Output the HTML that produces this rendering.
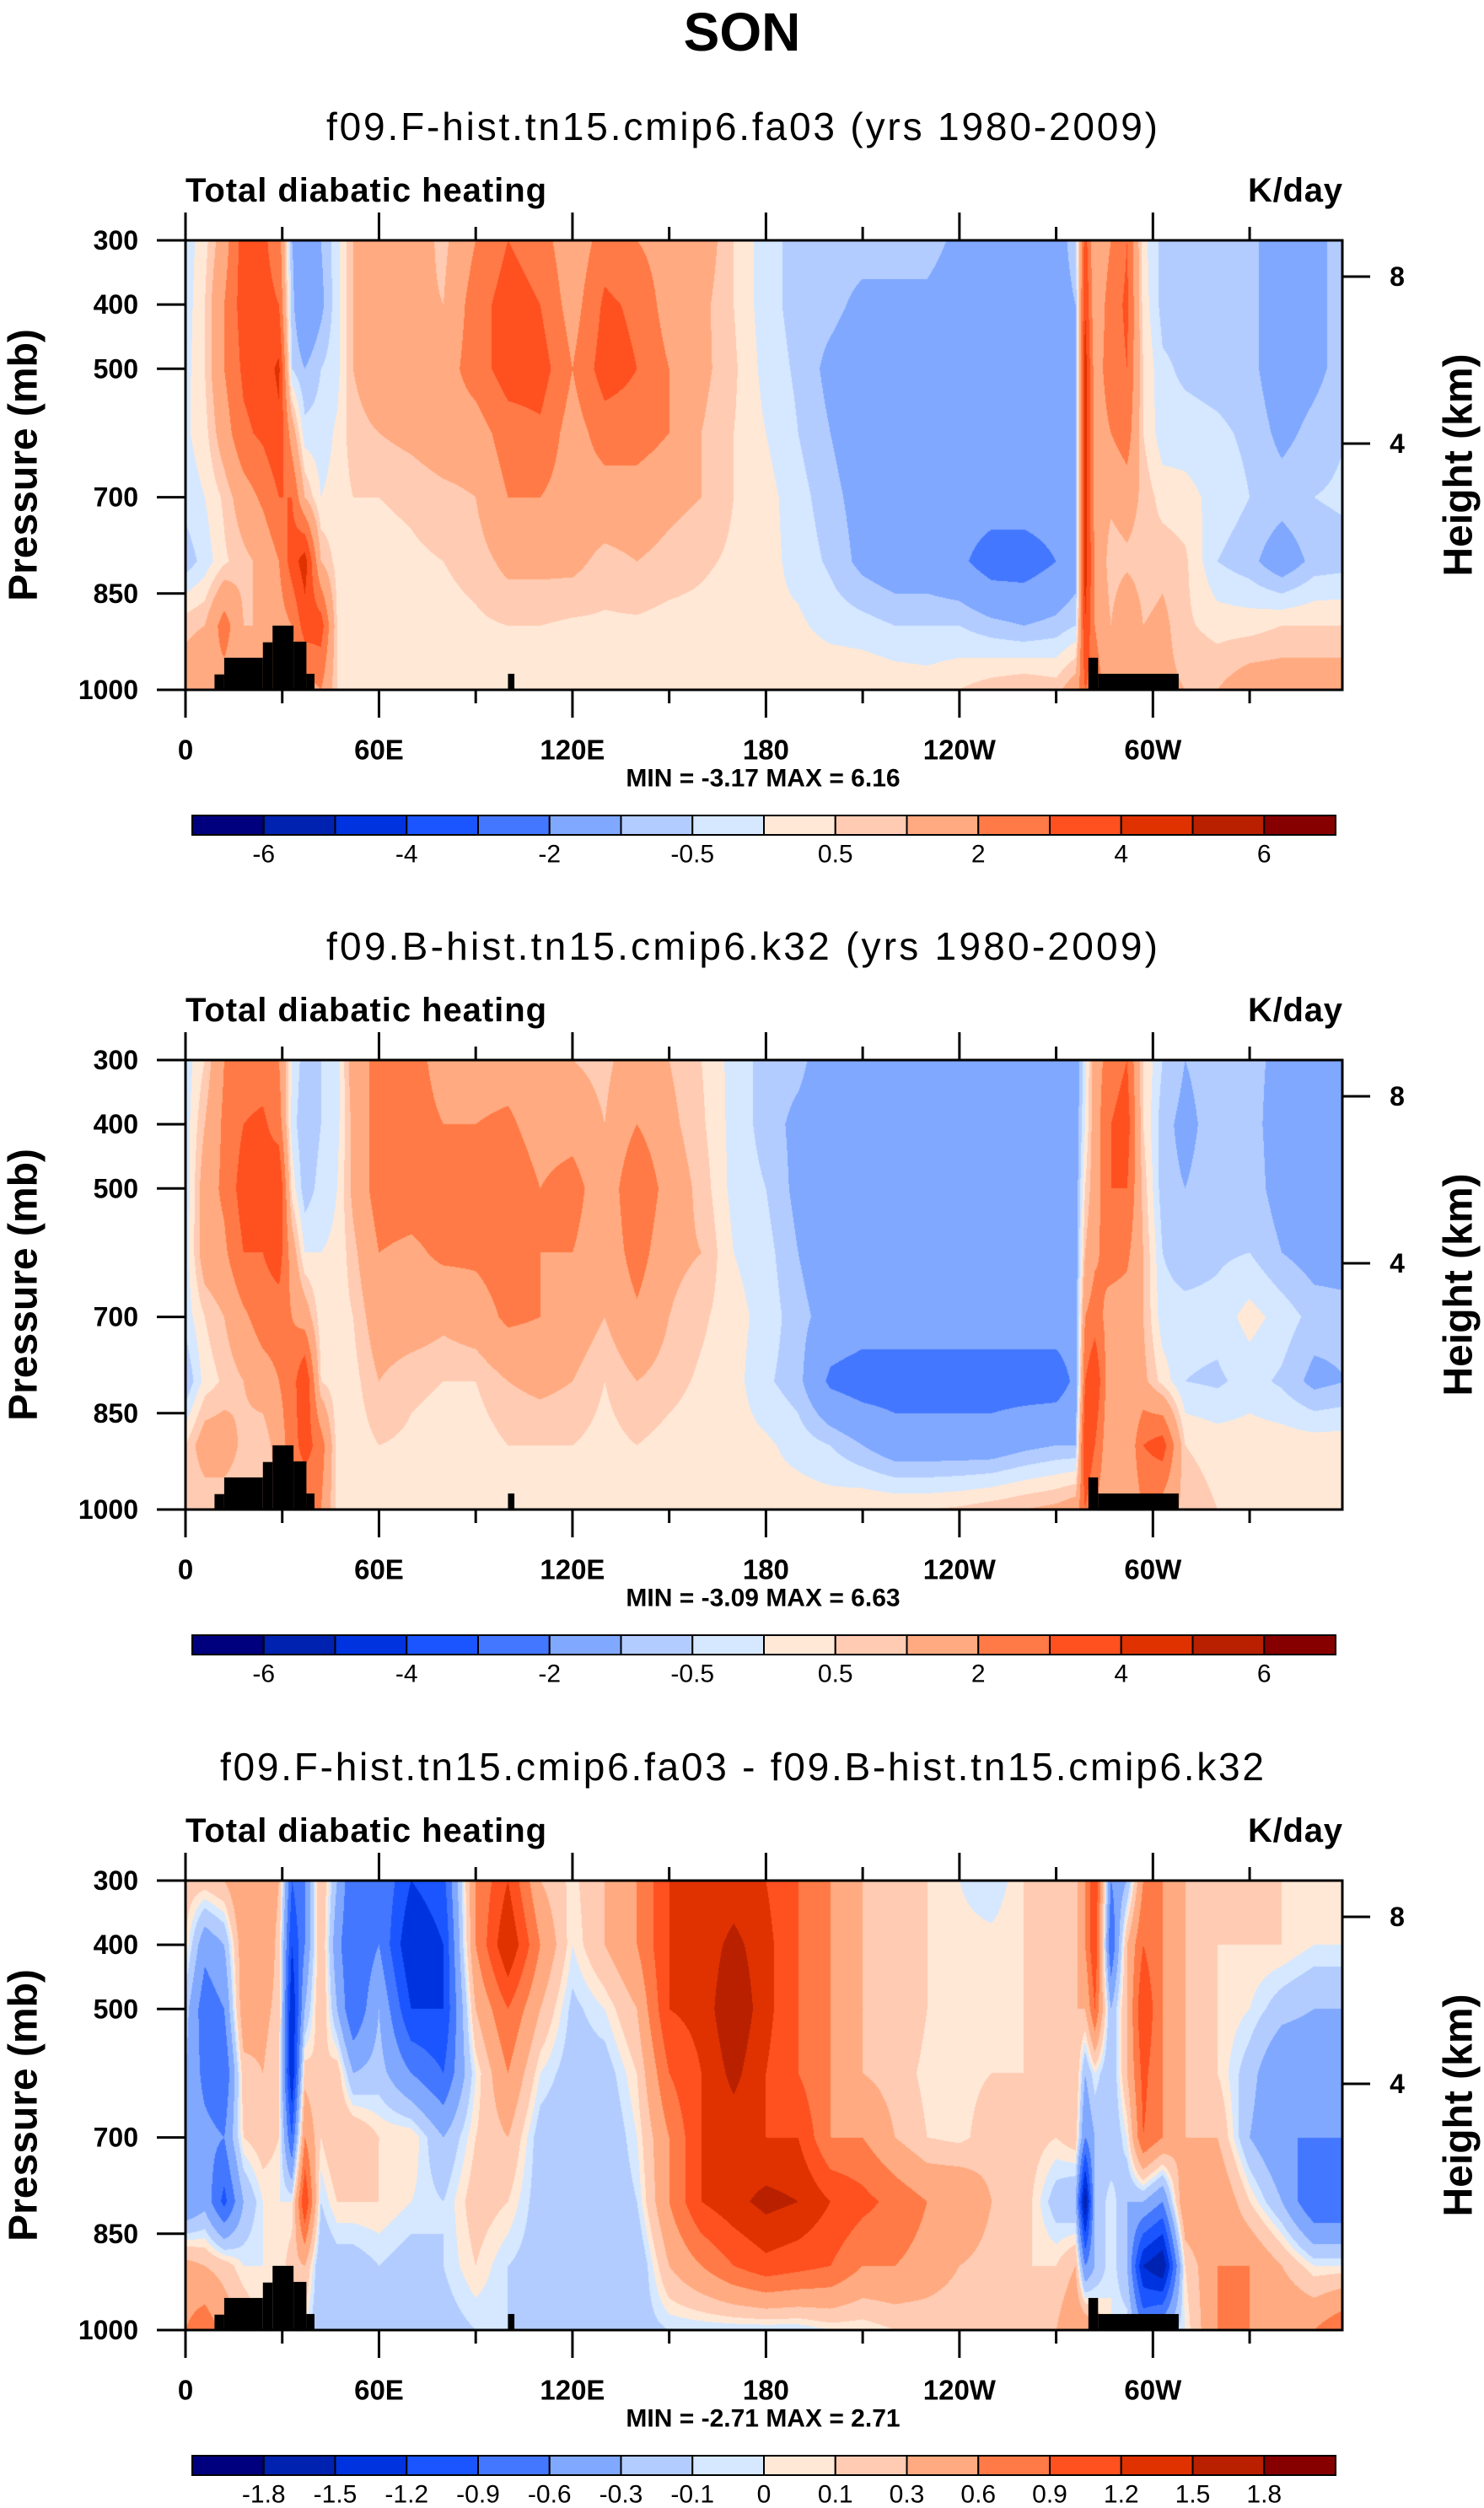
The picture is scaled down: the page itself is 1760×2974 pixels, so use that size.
<!DOCTYPE html>
<html><head><meta charset="utf-8">
<style>
html,body{margin:0;padding:0;background:#fff;}
#root{position:relative;width:1760px;height:2974px;overflow:hidden;font-family:"Liberation Sans",sans-serif;}
canvas{position:absolute;}
svg{position:absolute;left:0;top:0;}
</style></head>
<body>
<div id="root">
<svg id="svg" width="1760" height="2974"></svg>
</div>
<script>
// ---- data ----
const lons=[0,6,12,18,24,29,33,37,42,47,52,60,70,80,90,100,110,120,130,140,150,160,170,180,190,200,210,220,230,240,250,260,270,276,279,282,287,292,297,303,310,320,330,340,350,360];
const pressures=[300,400,500,600,700,800,900,1000];
const field1=[
[-0.3,-0.3,-0.2,-0.1,-0.3,-0.8,0.8,1.5],
[0.3,0.5,0.5,0.3,0,-0.3,1,2],
[1.5,2,2,1.5,0.6,0.4,2.5,1.5],
[3.5,3.5,3.2,2.8,1.5,0.8,1,1.2],
[3.2,3.3,3.5,3.2,2.2,1.2,1,1],
[2.5,3,4.2,3.8,3,2,1.5,1],
[-1,-0.8,-0.5,1.5,3,3.5,2,1.2],
[-1.5,-2,-1,-0.3,1,4.5,3.5,1.5],
[-1,-1.2,-0.5,-0.3,0,1,3.5,2],
[-0.2,-0.2,-0.2,0.1,0.2,0.3,0.5,0.5],
[1,1,1,0.8,0.5,0.3,0.3,0.3],
[1.5,1.5,1.5,1.0,0.5,0.3,0.3,0.2],
[1.5,1.2,1.5,1.2,0.6,0.4,0.3,0.2],
[0.8,1.0,1.5,1.5,0.8,0.5,0.3,0.2],
[2,2.5,2.5,1.5,1.0,0.7,0.4,0.3],
[3,3.5,3.5,2.5,2,1.2,0.5,0.3],
[2.5,3,3.5,2.8,2,1.2,0.5,0.2],
[1.2,1.5,2.0,1.5,1.5,1.2,0.4,0.2],
[2.5,3.2,3.5,2.5,1.5,0.8,0.4,0.3],
[2,2.8,3,2.5,1.5,1,0.4,0.2],
[1.5,1.5,2.0,2,1.2,0.8,0.3,0.2],
[1.5,1.2,1.2,1.0,1.0,0.6,0.3,0.3],
[0.5,0.5,0.6,0.5,0.5,0.4,0.2,0.2],
[-0.3,-0.3,-0.2,0,0.2,0.2,0.1,0.2],
[-0.7,-0.7,-0.6,-0.5,-0.3,-0.2,0.1,0.4],
[-0.7,-0.8,-1.2,-1.0,-0.8,-0.6,-0.2,0.5],
[-0.7,-1.2,-1.5,-1.5,-1.3,-1.2,-0.3,0.5],
[-0.7,-1.2,-1.5,-1.5,-1.5,-1.5,-0.5,0.4],
[-0.7,-1.2,-1.5,-1.5,-1.5,-1.5,-0.5,0.3],
[-1.2,-1.5,-1.5,-1.5,-1.5,-1.8,-0.5,0.5],
[-1.5,-1.5,-1.5,-1.5,-1.5,-2.5,-0.8,0.8],
[-1.5,-1.5,-1.5,-1.5,-1.5,-2.5,-1,1.0],
[-1.5,-1.5,-1.5,-1.5,-1.5,-2,-0.8,0.8],
[-0.6,-1,-1.2,-1.2,-1.2,-1.5,-0.5,1.5],
[3.5,4,4.5,4.5,4.5,4.5,4,3],
[1,1.2,1.5,1.5,1.5,2.0,2,2.5],
[2,2.5,2.5,2,1.2,0.6,1,1.5],
[3,3.2,3,2.5,1.5,0.8,2,1.5],
[0.2,0.3,0.5,0.5,0.8,0.6,1,1],
[-0.7,-0.7,-0.4,-0.3,0.3,0.8,1.2,1.2],
[-0.7,-0.7,-0.6,-0.3,0.2,0.6,0.6,1.0],
[-0.7,-0.7,-0.7,-0.4,-0.2,-0.5,0.3,1],
[-0.8,-0.8,-0.8,-0.6,-0.5,-0.8,0.3,1.5],
[-1.5,-1.5,-1.5,-1.2,-0.7,-1.5,0.5,1.5],
[-1.2,-1.2,-1.2,-0.8,-0.5,-0.8,0.5,1.5],
[-0.7,-0.7,-0.7,-0.5,-0.4,-0.7,0.5,1.5]];
const field2=[
[-0.3,-0.3,-0.4,-0.3,-0.3,-1,0.5,0.5],
[0.5,1,1.5,1.5,0.5,0.2,1.5,0.5],
[2,2.2,2.2,1.8,1,0.6,1.5,0.5],
[2.5,3,3.5,3,1.8,1,0.8,0.5],
[2.5,3.2,3.5,3,2.5,1.5,0.5,0.5],
[2,2.5,4,3.5,2.5,2,1.5,1],
[0,-0.2,0.3,1.5,2,2.5,2.5,1.5],
[-0.8,-1,-0.8,0,1.5,4,3.5,2],
[-0.5,-0.5,-0.3,0,0.2,0.5,2.5,2],
[-0.3,-0.2,0,0.1,0.2,0.2,0.3,0.3],
[1.5,1.2,1.2,0.8,0.5,0.3,0.2,0.2],
[2.3,2.5,2.5,2,1.5,1,0.5,0.3],
[2.5,2.5,2.5,1.8,1.5,0.6,0.4,0.3],
[1.5,2,2.5,2.2,1.2,0.5,0.3,0.2],
[1.5,2,2.5,2.2,1.5,0.5,0.2,0.2],
[1.5,2.2,2.8,2.5,2.2,1,0.5,0.3],
[1.5,1.5,2,2,2,1.2,0.5,0.3],
[1,1.5,2.5,2,1.5,1,0.5,0.3],
[0.8,1,1.2,1.2,1,0.5,0.3,0.2],
[1.5,2,3,2.5,1.8,1,0.5,0.2],
[1,1.2,1.5,1.2,1,0.7,0.3,0.2],
[0.5,0.6,0.8,1,0.6,0.4,0.2,0.2],
[-0.2,-0.2,-0.2,0,0.2,0.2,0.2,0.2],
[-0.7,-0.7,-0.5,-0.3,-0.2,-0.4,0.1,0.2],
[-0.8,-1.2,-1.2,-1,-0.8,-0.8,-0.2,0.3],
[-1.5,-1.5,-1.5,-1.5,-1.3,-2.2,-0.5,0.3],
[-1.5,-1.5,-1.5,-1.5,-1.5,-2.5,-1,0.5],
[-1.5,-1.5,-1.5,-1.5,-1.5,-2.5,-1.5,0.5],
[-1.5,-1.5,-1.5,-1.5,-1.5,-2.5,-1.5,0.5],
[-1.5,-1.5,-1.5,-1.5,-1.5,-2.5,-1.5,0.6],
[-1.5,-1.5,-1.5,-1.5,-1.5,-2.5,-1.5,0.8],
[-1.5,-1.5,-1.5,-1.5,-1.5,-2.5,-1.2,1],
[-1.5,-1.5,-1.5,-1.5,-1.5,-2.5,-1,1.2],
[-1.5,-1.5,-1.5,-1.5,-1.5,-1.8,-1,1.5],
[-0.2,0,0.5,1,2,3,4,3],
[1.5,1.5,1.5,1.8,2.5,4,3,2],
[2.5,3,3,2.5,1.5,1,1,1],
[3,3.5,3,2.2,1.5,1,1,1],
[0.5,0.5,0.8,1,1,1.2,3,2],
[-0.5,-0.8,-0.8,-0.5,-0.3,0.3,3.5,1.5],
[-1,-1.2,-1,-0.8,-0.3,-0.5,0.5,0.8],
[-0.7,-0.7,-0.7,-0.6,-0.3,-0.6,0.3,0.5],
[-0.8,-0.8,-0.7,-0.5,0.2,-0.3,0.3,0.5],
[-1.2,-1.3,-1.3,-1,-0.2,-0.6,0.3,0.5],
[-1.5,-1.5,-1.5,-1.3,-0.7,-1.2,0.3,0.5],
[-1.5,-1.5,-1.5,-1.3,-0.8,-1,0.3,0.5]];
const field3=[
[0.2,0.1,-0.2,-0.3,-0.4,-0.6,0.4,0.6],
[0.2,-0.5,-0.8,-0.7,-0.5,-0.4,0.3,0.8],
[0.3,-0.3,-0.6,-0.9,-0.6,-1.0,0.2,0.5],
[0.6,0.5,0.5,0.2,0.1,-0.3,0,0.3],
[0.6,0.6,0.4,0.3,0.2,0,0,0],
[0.3,0.2,0.2,0.1,0.1,0,0,0],
[-0.9,-1.2,-1.5,-1.5,-0.9,0,0.2,0.3],
[-0.6,-0.6,-0.3,0.2,0.6,1.2,0.3,0],
[0.3,0.3,0.3,0.1,0.1,-0.1,-0.3,-0.3],
[-0.3,-0.5,-0.3,0.2,0.3,0.1,-0.2,-0.3],
[-0.9,-0.9,-0.9,-0.3,0.3,0.1,-0.2,-0.3],
[-0.6,-0.6,-0.3,-0.2,0.1,0.1,-0.1,-0.3],
[-1.2,-1.5,-1.2,-0.6,0.1,0,-0.2,-0.3],
[-1.0,-1.2,-1.2,-0.9,-0.3,-0.1,-0.1,-0.2],
[0.6,0.6,0.3,0,0.1,0.2,0.1,-0.1],
[1.2,1.5,0.9,0.6,0.3,0.1,-0.1,-0.1],
[0.3,0.6,0.3,0,-0.2,-0.2,-0.2,-0.2],
[0.05,0,-0.15,-0.2,-0.25,-0.3,-0.3,-0.2],
[0.3,0.3,0,-0.2,-0.3,-0.3,-0.2,-0.2],
[0.6,0.6,0.3,0.1,0,-0.1,-0.3,-0.2],
[1.2,1.2,1.2,0.9,0.6,0.6,0.3,-0.1],
[1.2,1.3,1.3,1.2,1.2,1.2,0.6,-0.1],
[1.3,1.6,1.8,1.6,1.3,1.4,0.9,-0.1],
[1.2,1.3,1.3,1.2,1.2,1.6,1.1,-0.1],
[0.9,0.9,0.9,0.9,1.2,1.5,1.0,-0.1],
[0.6,0.6,0.6,0.6,0.6,1.2,0.9,0],
[0.3,0.3,0.3,0.3,0.6,1,0.6,0],
[0.2,0.2,0.3,0.2,0.3,0.8,0.6,0.1],
[0.1,0.1,0.1,0.05,0.1,0.6,0.5,0.1],
[0,0.05,0.05,0.05,0.05,0.6,0.3,0.1],
[-0.1,0.05,0.05,0.1,0.2,0.3,0.2,0.1],
[0.1,0.1,0.1,0.1,0.2,0.2,0.1,0.1],
[0.1,0.1,0.1,0.2,0.1,-0.2,0.1,0.3],
[0.2,0.2,0.3,0.3,0.2,-0.3,0.3,0.6],
[0.6,0.6,0.3,-0.3,-0.6,-1.8,-0.6,0.6],
[1.2,1.2,0.9,0,-0.3,-0.3,-0.3,0.3],
[-0.6,-0.9,-0.3,-0.3,-0.3,0,0,0],
[-0.3,0.3,0.3,0.3,0,-0.3,-0.3,0],
[0.6,0.9,1.2,1,0.9,-0.3,-1.5,-0.6],
[0.6,0.6,0.6,0.6,0.6,-0.6,-1.8,-0.3],
[0.3,0.3,0.3,0.3,0.3,0.6,0.1,0],
[0.1,0.1,0.1,0.1,0.3,0.6,0.6,0.6],
[0.1,0.1,0,-0.2,-0.3,0.1,0.6,0.6],
[0.1,0.1,-0.2,-0.6,-0.6,-0.3,0.3,0.6],
[0.1,0,-0.3,-0.6,-0.6,-0.9,0,0.6],
[0.1,0,-0.3,-0.6,-0.6,-0.9,0,0.9]];
const levels1=[-6,-5,-4,-3,-2,-1,-0.5,0,0.5,1,2,3,4,5,6];
const levels3=[-1.8,-1.5,-1.2,-0.9,-0.6,-0.3,-0.1,0,0.1,0.3,0.6,0.9,1.2,1.5,1.8];
const cbLabels1=["-6","","-4","","-2","","-0.5","","0.5","","2","","4","","6"];
const cbLabels3=["-1.8","-1.5","-1.2","-0.9","-0.6","-0.3","-0.1","0","0.1","0.3","0.6","0.9","1.2","1.5","1.8"];
const colors=["#00007f","#0022b0","#0033e0","#1a55ff","#4477ff","#80a8ff","#b3ccff","#d5e8ff","#ffe8d6","#ffcbb2","#ffaa80","#ff7a46","#ff5020","#e03200","#b82000","#870000"];
const lonTicks=[0,60,120,180,240,300];
const lonTickLabels=["0","60E","120E","180","120W","60W"];
const pTicks=[300,400,500,700,850,1000];
const hTickY=[43,241];
const hTickLabels=["8","4"];
const topoA=[[9,12,976],[12,24,950],[24,27,926],[27,33.5,900],[33.5,37.5,925],[37.5,40,975],[100,102,975],[280,283,950],[283,308,975]];
const titles=["f09.F-hist.tn15.cmip6.fa03 (yrs 1980-2009)","f09.B-hist.tn15.cmip6.k32 (yrs 1980-2009)","f09.F-hist.tn15.cmip6.fa03 - f09.B-hist.tn15.cmip6.k32"];
const minmax=["MIN = -3.17  MAX =  6.16","MIN = -3.09  MAX =  6.63","MIN = -2.71  MAX =  2.71"];

// ---- geometry ----
const PL=220,PW=1372,PH=533,LONMAX=358.75;
const offsets=[285,1257,2230];
const xs=l=>PL+l/LONMAX*PW;
const ys=(top,p)=>top+(p-300)/700*PH;
const svg=document.getElementById('svg');
const NS="http://www.w3.org/2000/svg";
function mk(tag,attrs,parent){const e=document.createElementNS(NS,tag);for(const k in attrs)e.setAttribute(k,attrs[k]);(parent||svg).appendChild(e);return e;}
function txt(s,x,y,size,weight,anchor,parent){const t=mk('text',{x:x,y:y,'font-size':size,'font-weight':weight,'text-anchor':anchor,'font-family':'Liberation Sans, sans-serif','dominant-baseline':'central'},parent);t.textContent=s;return t;}

let t0=txt("SON",880,38,64,"bold","middle");



function sample(field,lon,p){
  let i=0;while(i<lons.length-2&&lon>lons[i+1])i++;
  const fx=Math.min(1,Math.max(0,(lon-lons[i])/(lons[i+1]-lons[i])));
  let j=Math.min(6,Math.floor((p-300)/100));
  const fy=Math.min(1,Math.max(0,(p-pressures[j])/100));
  const a=field[i][j],b=field[i+1][j],c=field[i][j+1],d=field[i+1][j+1];
  return (a*(1-fx)+b*fx)*(1-fy)+(c*(1-fx)+d*fx)*fy;
}
function hex(h){return [parseInt(h.substr(1,2),16),parseInt(h.substr(3,2),16),parseInt(h.substr(5,2),16)];}
const rgb=colors.map(hex);

function drawPanel(k,field,levels,cbl){
  const top=offsets[k];
  const g=mk('g',{});
  
  
  const cv=document.createElement('canvas');
  cv.width=PW;cv.height=PH;cv.style.left=PL+'px';cv.style.top=top+'px';
  
  
  document.getElementById('root').insertBefore(cv,svg);
  const ctx=cv.getContext('2d');const im=ctx.createImageData(PW,PH);
  for(let y=0;y<PH;y++){const p=300+(y+0.5)/PH*700;
    for(let x=0;x<PW;x++){const lon=(x+0.5)/PW*LONMAX;
      const v=Math.round(sample(field,lon,p)*1e5)/1e5;let ci=0;while(ci<levels.length&&v>=levels[ci]-1e-9)ci++;
      const c=rgb[ci];const o=(y*PW+x)*4;im.data[o]=c[0];im.data[o+1]=c[1];im.data[o+2]=c[2];im.data[o+3]=255;}}
  ctx.putImageData(im,0,0);
  topoA.forEach((s,n)=>{const r=mk('rect',{x:xs(s[0]),y:ys(top,s[2]),width:xs(s[1])-xs(s[0]),height:ys(top,1000)-ys(top,s[2]),fill:'#000'},g);
    
    });
  const fr=mk('rect',{x:PL,y:top,width:PW,height:PH,fill:'none',stroke:'#000','stroke-width':3},g);
  
  
  for(let l=0;l<=330;l+=30){const x=xs(l);const major=l%60===0;const L=major?33:16;
    mk('line',{x1:x,x2:x,y1:top+PH,y2:top+PH+L,stroke:'#000','stroke-width':3},g);
    mk('line',{x1:x,x2:x,y1:top,y2:top-L,stroke:'#000','stroke-width':3},g);}
  lonTicks.forEach((l,n)=>{const t=txt(lonTickLabels[n],xs(l),top+PH+71,33,'bold','middle',g);
    
    });
  pTicks.forEach(p=>{const y=ys(top,p);mk('line',{x1:186,x2:PL,y1:y,y2:y,stroke:'#000','stroke-width':3},g);
    const t=txt(String(p),164,y,32,'bold','end',g);
    
    });
  hTickY.forEach((dy,n)=>{const y=top+dy;mk('line',{x1:PL+PW,x2:1625,y1:y,y2:y,stroke:'#000','stroke-width':3},g);
    const t=txt(hTickLabels[n],1657,y,32,'bold','middle',g);
    
    });
  const st=txt(titles[k],880,top-135,46,'normal','middle',g);
  st.setAttribute('textLength',k===2?1238:986);
  
  
  const lt=txt("Total diabatic heating",PL,top-59,40,'bold','start',g);
  lt.setAttribute('textLength',428);
  
  
  const ut=txt("K/day",PL+PW,top-59,40,'bold','end',g);
  ut.setAttribute('textLength',112);
  
  
  const py=txt("Pressure (mb)",0,0,48,'bold','middle',g);
  py.setAttribute('transform','translate(28,'+(top+PH/2)+') rotate(-90)');
  
  
  const hy=txt("Height (km)",0,0,48,'bold','middle',g);
  hy.setAttribute('transform','translate(1730,'+(top+PH/2)+') rotate(-90)');
  
  
  const mm=txt(minmax[k],905,top+638,30,'bold','middle',g);
  
  
  const cy=top+682,cw=(1584-228)/16;
  colors.forEach((c,n)=>{const r=mk('rect',{x:228+n*cw,y:cy,width:cw,height:23,fill:c,stroke:'#000','stroke-width':2},g);
    
    });
  cbl.forEach((s,n)=>{if(!s)return;const t=txt(s,228+(n+1)*cw,cy+46,30,'normal','middle',g);
    
    });
}
drawPanel(0,field1,levels1,cbLabels1);
drawPanel(1,field2,levels1,cbLabels1);
drawPanel(2,field3,levels3,cbLabels3);
</script>
</body></html>
